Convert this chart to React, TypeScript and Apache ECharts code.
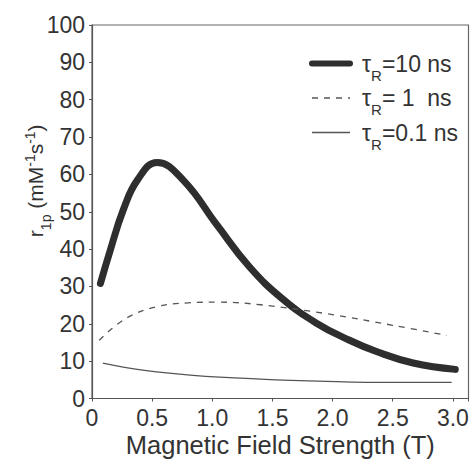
import React, { useEffect, useRef } from "react";
import * as echarts from "echarts";

const xThick = [0.07, 0.15, 0.26, 0.38, 0.54, 0.76, 1.04, 1.31, 1.59, 1.87, 2.12, 2.37, 2.67, 3.02];
const yThick = [30.8, 39.5, 50.5, 58.6, 63.2, 58.4, 46.4, 35.2, 26.5, 20.1, 15.9, 12.5, 9.5, 7.8];

const xDashed = [0.06, 0.28, 0.54, 0.8, 1.04, 1.4, 1.95, 2.5, 2.95];
const yDashed = [15.6, 21.4, 24.6, 25.6, 25.8, 25.1, 22.7, 19.6, 16.9];

const xThin = [0.09, 0.42, 0.84, 1.4, 1.95, 2.5, 2.99];
const yThin = [9.5, 7.6, 6.2, 5.2, 4.6, 4.3, 4.3];

const seriesNames = ["tau10", "tau1", "tau01"];
const legendLabels: Record<string, string> = {
  tau10: "{t|τ}{s|R}{m|=10 ns}",
  tau1: "{t|τ}{s|R}{m|= 1  ns}",
  tau01: "{t|τ}{s|R}{m|=0.1 ns}",
};
const legendWidths = [6, 1.3, 1.3];

const xTicks = [0, 0.5, 1.0, 1.5, 2.0, 2.5, 3.0];

const zip = (xs: number[], ys: number[]) => xs.map((x, i) => [x, ys[i]]);

export default function App() {
  const ref = useRef<HTMLDivElement>(null);
  useEffect(() => {
    if (!ref.current) return;
    const chart = echarts.init(ref.current, null, { renderer: "svg" });
    const font = "Liberation Sans, Arial, sans-serif";
    const textColor = "#333";
    chart.setOption({
      animation: false,
      backgroundColor: "#fff",
      grid: {
        left: 92,
        top: 25,
        right: 7.5,
        bottom: 66.5,
        show: true,
        borderColor: "#666",
        borderWidth: 1.2,
        outerBoundsMode: "none",
        containLabel: false,
      },
      legend: {
        right: 13,
        top: 47,
        orient: "vertical",
        itemWidth: 38,
        itemHeight: 14,
        itemGap: 4,
        itemStyle: { opacity: 0 },
        data: seriesNames.map((n, i) => ({ name: n, lineStyle: { width: legendWidths[i] } })),
        formatter: (name: string) => legendLabels[name],
        textStyle: {
          fontFamily: font,
          color: textColor,
          rich: {
            t: { fontSize: 23, fontFamily: font, color: textColor, lineHeight: 24, padding: [0, 0, 0, 7] },
            m: { fontSize: 23, fontFamily: font, color: textColor, lineHeight: 24 },
            s: { fontSize: 15, fontFamily: font, color: textColor, verticalAlign: "bottom", lineHeight: 14, padding: [0, 0, -7, 0] },
          },
        },
      },
      xAxis: {
        type: "value",
        min: 0,
        max: 3.13,
        interval: 0.5,
        name: "Magnetic Field Strength (T)",
        nameLocation: "middle",
        nameGap: 33,
        nameMoveOverlap: false,
        nameTextStyle: { fontFamily: font, fontSize: 25.5, color: textColor },
        axisLine: { show: true, lineStyle: { color: "#555", width: 1.2 } },
        axisTick: { show: true, inside: false, length: 3, lineStyle: { color: "#555" } },
        splitLine: { show: false },
        axisLabel: {
          fontFamily: font,
          fontSize: 23,
          color: textColor,
          margin: 8,
          formatter: (v: number) => {
            const hit = xTicks.find((t) => Math.abs(t - v) < 1e-6);
            if (hit === undefined) return "";
            return hit === 0 ? "0" : hit.toFixed(1);
          },
        },
      },
      yAxis: {
        type: "value",
        min: 0,
        max: 100,
        interval: 10,
        name: "{b|r}{s|1p}{b| (mM}{p|-1}{b|s}{p|-1}{b|)}",
        nameLocation: "middle",
        nameGap: 45,
        nameMoveOverlap: false,
        nameTextStyle: {
          fontFamily: font,
          color: textColor,
          padding: [0, 0, 0, 62],
          rich: {
            b: { fontSize: 21, fontFamily: font, color: textColor, lineHeight: 24 },
            s: { fontSize: 14, fontFamily: font, color: textColor, verticalAlign: "bottom", lineHeight: 14, padding: [0, 0, -6, 0] },
            p: { fontSize: 14, fontFamily: font, color: textColor, verticalAlign: "top", lineHeight: 14, padding: [0, 0, 0, 0] },
          },
        },
        axisLine: { show: true, lineStyle: { color: "#555", width: 1.2 } },
        axisTick: { show: true, inside: false, length: 3, lineStyle: { color: "#555" } },
        splitLine: { show: false },
        axisLabel: { fontFamily: font, fontSize: 23, color: textColor, margin: 7 },
      },
      series: [
        {
          name: "tau10",
          type: "line",
          data: zip(xThick, yThick),
          smooth: 0.45,
          symbol: "none",
          lineStyle: { color: "#2e2e2e", width: 7, cap: "round" },
          itemStyle: { color: "#2e2e2e" },
        },
        {
          name: "tau1",
          type: "line",
          data: zip(xDashed, yDashed),
          smooth: 0.4,
          symbol: "none",
          lineStyle: { color: "#555", width: 1.3, type: [6, 6] },
          itemStyle: { color: "#555" },
        },
        {
          name: "tau01",
          type: "line",
          data: zip(xThin, yThin),
          smooth: 0.4,
          symbol: "none",
          lineStyle: { color: "#555", width: 1.3 },
          itemStyle: { color: "#555" },
        },
      ],
    });
    return () => chart.dispose();
  }, []);
  return (
    <div
      ref={ref}
      style={{ position: "fixed", left: 0, top: 0, width: 476, height: 465 }}
    />
  );
}
